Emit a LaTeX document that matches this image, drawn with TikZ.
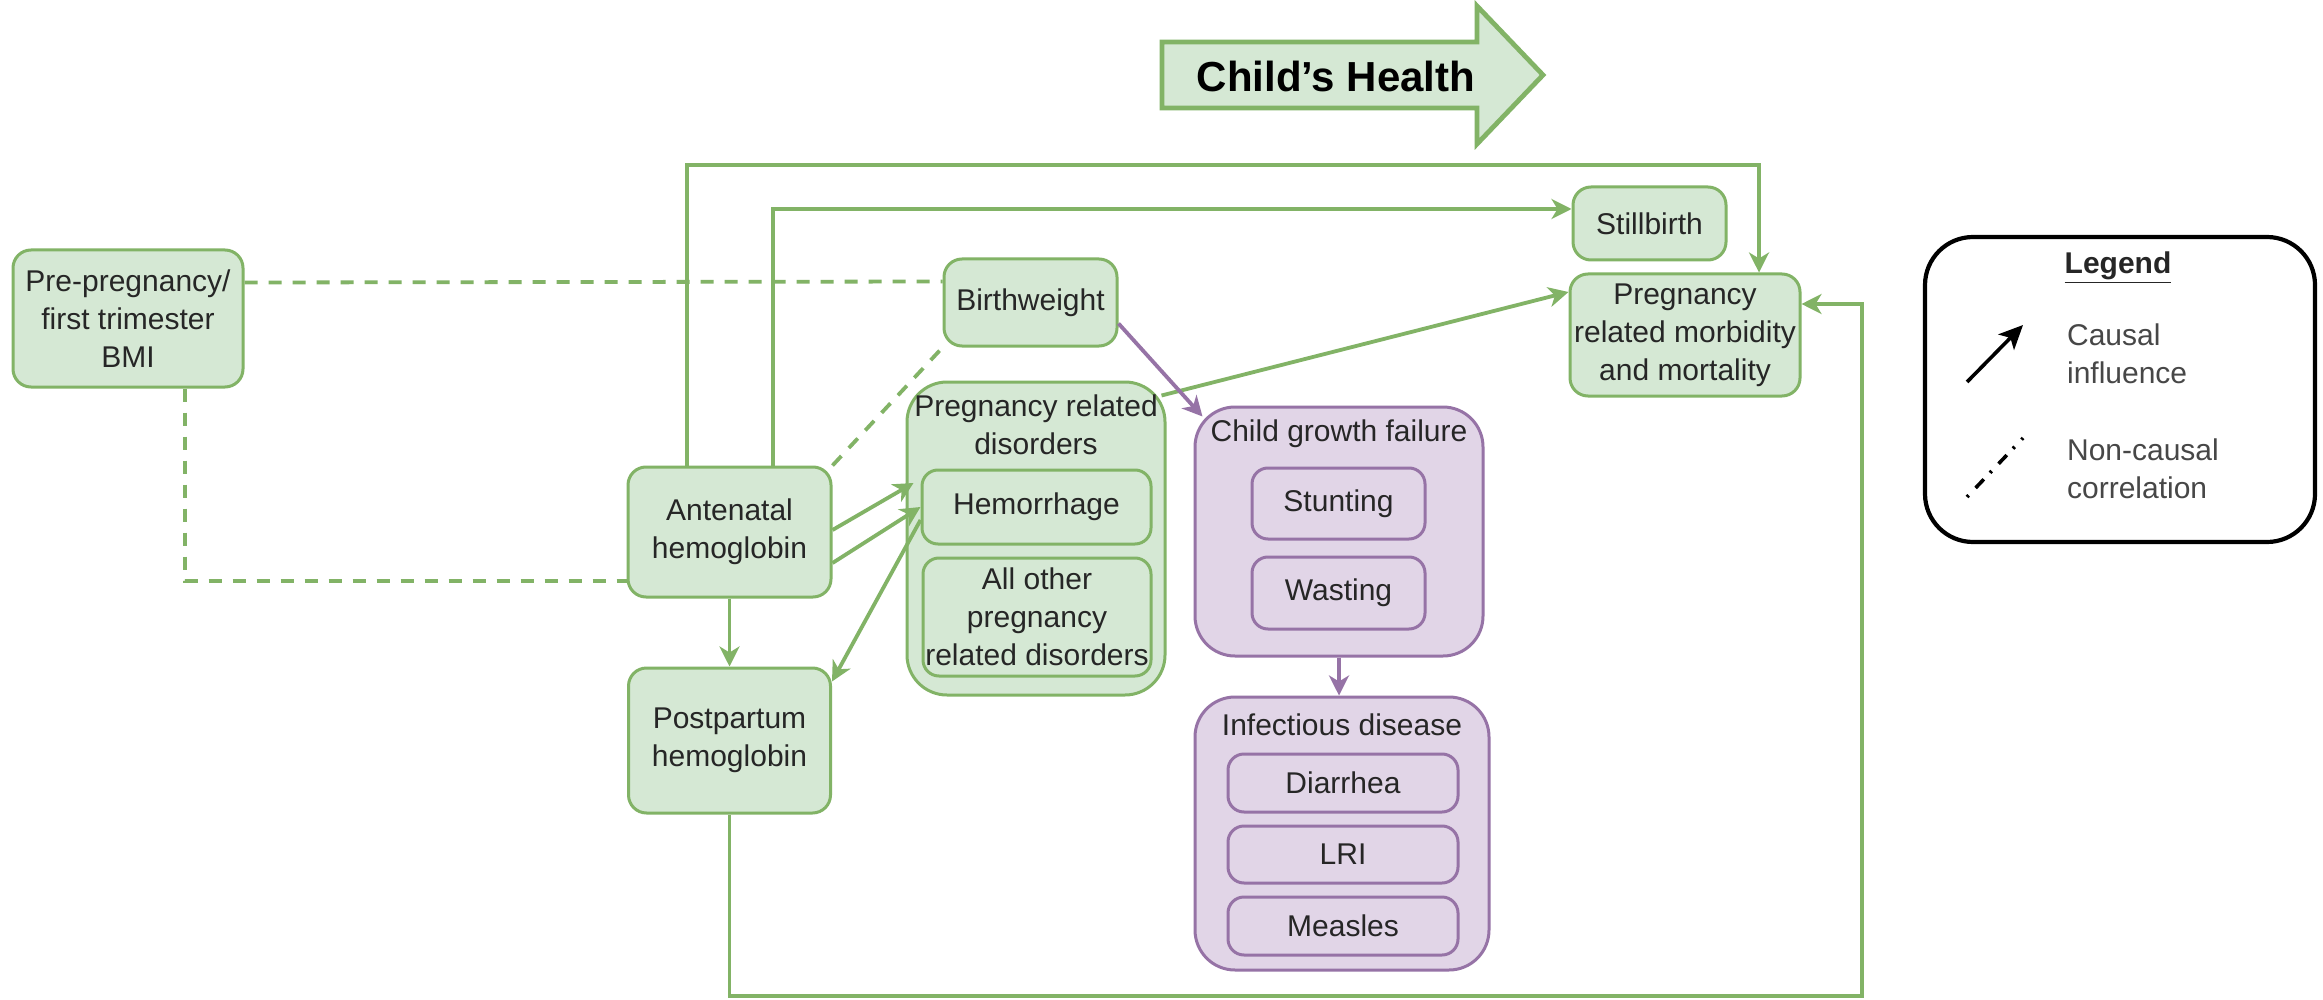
\documentclass[tikz,border=0pt]{standalone}
\usepackage{fontspec}
\setmainfont{Liberation Sans}
\usetikzlibrary{arrows.meta,calc}

\definecolor{gfill}{HTML}{D5E8D4}
\definecolor{gline}{HTML}{82B366}
\definecolor{pfill}{HTML}{E1D5E7}
\definecolor{pline}{HTML}{9673A6}
\definecolor{ink}{HTML}{262626}

\tikzset{
  txt/.style={font=\fontsize{15pt}{19pt}\selectfont, text=ink, align=center},
  gbox/.style={txt, draw=gline, fill=gfill, line width=1.5pt, rounded corners=9pt, inner sep=0pt},
  pbox/.style={txt, draw=pline, fill=pfill, line width=1.5pt, rounded corners=8pt, inner sep=0pt},
  gframe/.style={gbox, rounded corners=20pt},
  pframe/.style={pbox, rounded corners=20pt},
  tip/.style={-{Stealth[length=10pt,width=10pt,inset=3pt]}},
  gconn/.style={draw=gline, line width=1.9pt, tip},
  pconn/.style={draw=pline, line width=1.9pt, tip},
  gdash/.style={draw=gline, line width=1.9pt, dash pattern=on 6.5pt off 5.5pt},
}

\begin{document}
\begin{tikzpicture}[x=0.5pt,y=-0.5pt]
\path[fill=white,use as bounding box] (0,0) rectangle (2323,1000);

% banner arrow
\path[draw=gline, fill=gfill, line width=2.4pt, line join=miter]
  (1162,42) -- (1477,42) -- (1477,6) -- (1543,75) -- (1477,144) -- (1477,108) -- (1162,108) -- cycle;
\node[font=\fontsize{21pt}{24pt}\selectfont\bfseries] (banner) at (1336,76) {Child’s Health};

% maternal exposures
\node[gbox, minimum width=115pt, minimum height=68.5pt] (bmi) at (128,318.5) {Pre-pregnancy/\\first trimester\\BMI};
\node[gbox, minimum width=101.5pt, minimum height=65pt] (ante) at (729.5,532) {Antenatal\\hemoglobin};
\node[gbox, minimum width=101pt, minimum height=72.5pt] (post) at (729.5,740.5) {Postpartum\\hemoglobin};

% outcomes
\node[gbox, minimum width=86.5pt, minimum height=43.5pt] (bw) at (1030.5,302.5) {Birthweight};
\node[gbox, minimum width=76.5pt, minimum height=36.5pt] (still) at (1649.5,223.5) {Stillbirth};
\node[gbox, minimum width=115pt, minimum height=61pt] (morb) at (1685,335) {Pregnancy\\related morbidity\\and mortality};

% pregnancy related disorders group
\node[gframe, minimum width=129pt, minimum height=156.5pt] (dis) at (1036,538.5) {};
\node[txt] (disT) at (1036,425) {Pregnancy related\\disorders};
\node[gbox, rounded corners=8pt, minimum width=114.5pt, minimum height=37pt] (hem) at (1036.5,507) {Hemorrhage};
\node[gbox, rounded corners=8pt, minimum width=114pt, minimum height=59pt] (oth) at (1037,617) {All other\\pregnancy\\related disorders};

% child growth failure group
\node[pframe, minimum width=144pt, minimum height=124.5pt] (cgf) at (1339,531.5) {};
\node[txt] (cgfT) at (1339,434) {Child growth failure};
\node[pbox, minimum width=86.5pt, minimum height=35.5pt] (stunt) at (1338.5,503.5) {Stunting};
\node[pbox, minimum width=86.5pt, minimum height=36pt] (waste) at (1338.5,593) {Wasting};

% infectious disease group
\node[pframe, minimum width=147pt, minimum height=136.5pt] (inf) at (1342,833.5) {};
\node[txt] (infT) at (1342,725) {Infectious disease};
\node[pbox, minimum width=115pt, minimum height=29pt] (diar) at (1343,783) {Diarrhea};
\node[pbox, minimum width=115pt, minimum height=28.5pt] (lri) at (1343,854.5) {LRI};
\node[pbox, minimum width=115pt, minimum height=29pt] (meas) at (1343,926) {Measles};

% legend
\node[draw=black, line width=2.1pt, rounded corners=24pt, minimum width=195pt, minimum height=152.5pt] (leg) at (2120,389.5) {};
\node[txt, font=\fontsize{15pt}{19pt}\selectfont\bfseries] (legT) at (2118,268) {\underline{Legend}};
\coordinate (ca) at (1967,382);
\coordinate (cb) at (2023,325);
\coordinate (na) at (1967,497);
\coordinate (nb) at (2023,438);
\draw[black, line width=1.8pt, -{Stealth[length=12pt,width=11pt,inset=3pt]}] (ca) -- (cb);
\draw[black, line width=1.8pt, dash pattern=on 1.2pt off 5pt on 6pt off 4.5pt] (na) -- (nb);
\node[txt, align=left, anchor=west, text=ink!85] (legC) at (2060,353.5) {Causal\\influence};
\node[txt, align=left, anchor=west, text=ink!85] (legN) at (2060,468.5) {Non-causal\\correlation};

% non-causal correlations
\draw[gdash] ([yshift=18pt]bmi.east) -- ([yshift=10.5pt]bw.west);
\draw[gdash] ([xshift=28.5pt]bmi.south) |- ([yshift=-24.5pt]ante.west);
\draw[gdash] (ante.north east) -- (bw.south west);

% causal links from antenatal hemoglobin
\draw[gconn] ([xshift=-21.25pt]ante.north) |- (1759,165) -- ([xshift=37pt]morb.north);
\draw[gconn] ([xshift=21.75pt]ante.north) |- ([yshift=7.25pt]still.west);
\draw[gconn] ([yshift=1pt]ante.east) -- ([xshift=-3.5pt,yshift=12pt]hem.west);
\draw[gconn] ([yshift=-15.5pt]ante.east) -- (hem.west);
\draw[gconn] ([yshift=-6.5pt]hem.west) -- ([yshift=-7.5pt]post.north east);
\draw[gconn] (ante.south) -- (ante.south |- post.north);

% other causal links
\draw[gconn] (post.south) |- (1862,996) |- ([yshift=15.5pt]morb.east);
\draw[gconn] ($(dis.north east)+(-5,15)$) -- ([yshift=21.5pt]morb.west);
\draw[pconn] ([yshift=-10.5pt]bw.east) -- ($(cgf.north west)+(9,11)$);
\draw[pconn] (cgf.south) -- (cgf.south |- inf.north);
\end{tikzpicture}
\end{document}
